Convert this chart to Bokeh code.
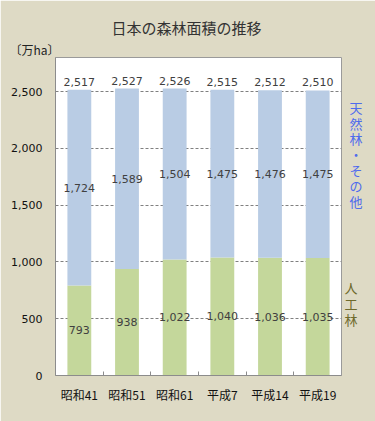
from bokeh.plotting import figure
from bokeh.models import Range1d, FixedTicker, Title, LinearAxis, ColumnDataSource
from bokeh.core.properties import value
from bokeh.embed import file_html
from bokeh.resources import INLINE

# ---- data ----
categories = ["昭和41", "昭和51", "昭和61", "平成7", "平成14", "平成19"]
planted = [793, 938, 1022, 1040, 1036, 1035]          # 人工林
natural = [1724, 1589, 1504, 1475, 1476, 1475]        # 天然林・その他
totals = [2517, 2527, 2526, 2515, 2512, 2510]
y_ticks = [0, 500, 1000, 1500, 2000, 2500]
title_text = "日本の森林面積の推移"
unit_text = "〔万ha〕"
natural_name = "天然林・その他"
planted_name = "人工林"

BG = "#DEDAC5"
BLUE = "#B9CCE4"
GREEN = "#C4D79B"
LBL = "#404040"
NUMFONT = "DejaVu Sans"
JPFONT = "Noto Sans CJK JP"

n = len(categories)
xs = [i + 0.5 for i in range(n)]

src = ColumnDataSource(dict(
    x=xs,
    planted=planted,
    total=totals,
    p_mid=[v / 2 for v in planted],
    n_mid=[p + v / 2 for p, v in zip(planted, natural)],
    p_txt=[f"{v:,}" for v in planted],
    n_txt=[f"{v:,}" for v in natural],
    t_txt=[f"{v:,}" for v in totals],
))

p = figure(width=375, height=421, output_backend="svg", toolbar_location=None,
           x_range=Range1d(0, n), y_range=Range1d(0, 2800),
           min_border_left=55, min_border_right=34, min_border_top=57,
           min_border_bottom=46)
p.border_fill_color = BG
p.background_fill_color = "white"
p.outline_line_color = "#9A9A9A"
p.outline_line_width = 1

# titles
p.title.text = title_text
p.title.align = "left"
p.title.text_font = JPFONT
p.title.text_font_size = "15px"
p.title.text_font_style = "normal"
p.title.text_color = "#333333"
p.title.offset = 56
p.title.standoff = 2
p.add_layout(Title(text=unit_text, align="left", offset=-46, standoff=0, text_font=JPFONT,
                   text_font_size="12px", text_font_style="normal",
                   text_color="#222222"), "above")

# bars
p.vbar(x="x", top="planted", width=0.5, fill_color=GREEN, line_color=None, source=src)
p.vbar(x="x", bottom="planted", top="total", width=0.5, fill_color=BLUE, line_color=None, source=src)

# data labels
common = dict(text_font=value(NUMFONT), text_font_size="11px", text_color=LBL,
              text_align="center", text_baseline="middle", source=src)
p.text(x="x", y="p_mid", text="p_txt", **common)
p.text(x="x", y="n_mid", text="n_txt", **common)
p.text(x="x", y="total", text="t_txt", y_offset=-8, **common)

# grid / axes
p.xgrid.visible = False
p.ygrid.ticker = FixedTicker(ticks=y_ticks)
p.ygrid.grid_line_color = "#808080"
p.ygrid.grid_line_dash = "3 2"

p.yaxis.ticker = FixedTicker(ticks=y_ticks)
p.yaxis.major_label_overrides = {v: f"{v:,}" for v in y_ticks}
p.yaxis.major_tick_out = 0
p.yaxis.major_tick_in = 0
p.yaxis.minor_tick_out = 0
p.yaxis.minor_tick_in = 0
p.yaxis.axis_line_color = "#8C8C8C"
p.yaxis.major_label_standoff = 13
p.yaxis.major_label_text_font = NUMFONT
p.yaxis.major_label_text_font_size = "11px"
p.yaxis.major_label_text_color = "#111111"

p.xaxis.ticker = FixedTicker(ticks=xs, minor_ticks=list(range(1, n)))
p.xaxis.major_label_overrides = {x: c for x, c in zip(xs, categories)}
p.xaxis.major_tick_out = 0
p.xaxis.major_tick_in = 0
p.xaxis.minor_tick_in = 4
p.xaxis.minor_tick_out = 0
p.xaxis.minor_tick_line_color = "#8C8C8C"
p.xaxis.axis_line_color = "#8C8C8C"
p.xaxis.major_label_standoff = 10
p.xaxis.major_label_text_font = JPFONT
p.xaxis.major_label_text_font_size = "12px"
p.xaxis.major_label_text_color = "#111111"

# right-side series names, one character per tick, stacked vertically
def char_ticks(text, top, step):
    return {top - i * step: ch for i, ch in enumerate(text)}

nat_map = char_ticks(natural_name, 2357, 137)
pla_map = char_ticks(planted_name, 774, 141)

ax_n = LinearAxis(ticker=FixedTicker(ticks=list(nat_map)), major_label_overrides=nat_map,
                  axis_line_color=None, major_tick_line_color=None, minor_tick_line_color=None,
                  major_label_standoff=2, major_label_text_font=JPFONT,
                  major_label_text_font_size="13px", major_label_text_color="#4F6BED")
ax_p = LinearAxis(ticker=FixedTicker(ticks=list(pla_map)), major_label_overrides=pla_map,
                  axis_line_color=None, major_tick_line_color=None, minor_tick_line_color=None,
                  major_label_standoff=-27, major_label_text_font=JPFONT,
                  major_label_text_font_size="13px", major_label_text_color="#6E6A2C")
p.add_layout(ax_n, "right")
p.add_layout(ax_p, "right")

open("out.html", "w").write(file_html(p, INLINE))
